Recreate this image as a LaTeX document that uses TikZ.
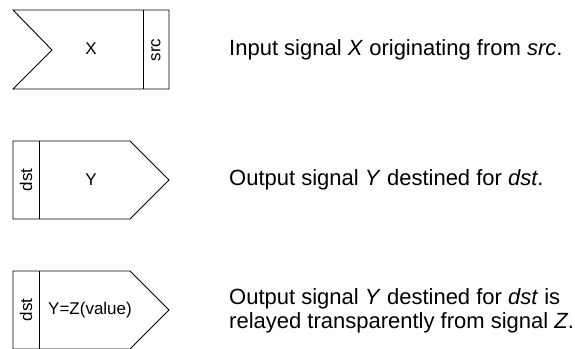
\documentclass[tikz,border=0pt]{standalone}
\usepackage{fontspec}
\setmainfont{Liberation Sans}
\begin{document}
\begin{tikzpicture}[x=1pt,y=-1pt,
  shapeline/.style={draw=black,line width=0.9pt,line join=miter},
  lbl/.style={inner sep=0pt,font=\fontsize{17}{20}\selectfont},
  vlbl/.style={inner sep=0pt,rotate=90,font=\fontsize{17}{20}\selectfont},
  desc/.style={inner sep=0pt,anchor=west,align=left,font=\fontsize{22}{24}\selectfont}]
\useasboundingbox (0,0) rectangle (575,348);
\begin{scope}
\clip (0,0) rectangle (575,348);
% shape 1: input signal
\coordinate (a1) at (13,10);
\coordinate (a2) at (169,10);
\coordinate (a3) at (169,89);
\coordinate (a4) at (13,89);
\coordinate (a5) at (52,50);
\coordinate (a6) at (143,10);
\coordinate (a7) at (143,89);
\draw[shapeline] (a1) -- (a2) -- (a3) -- (a4) -- (a5) -- cycle;
\draw[shapeline] (a6) -- (a7);
\node[lbl] (x) at (91,49) {X};
\node[vlbl] (src) at (156,50) {src};
% shape 2: output signal
\coordinate (b1) at (13,141);
\coordinate (b2) at (130,141);
\coordinate (b3) at (169,180);
\coordinate (b4) at (130,219);
\coordinate (b5) at (13,219);
\coordinate (b6) at (39,141);
\coordinate (b7) at (39,219);
\draw[shapeline] (b1) -- (b2) -- (b3) -- (b4) -- (b5) -- cycle;
\draw[shapeline] (b6) -- (b7);
\node[lbl] (y) at (91,180) {Y};
\node[vlbl] (dst1) at (26,180) {dst};
% shape 3: relayed output signal
\coordinate (c1) at (13,271);
\coordinate (c2) at (130,271);
\coordinate (c3) at (169,310);
\coordinate (c4) at (130,349);
\coordinate (c5) at (13,349);
\coordinate (c6) at (39,271);
\coordinate (c7) at (39,349);
\draw[shapeline] (c1) -- (c2) -- (c3) -- (c4) -- (c5) -- cycle;
\draw[shapeline] (c6) -- (c7);
\node[lbl] (yz) at (90,310) {Y=Z(value)};
\node[vlbl] (dst2) at (26,310) {dst};
\end{scope}
% descriptions
\node[desc] (d1) at (229,50) {Input signal \textit{X} originating from \textit{src}.};
\node[desc] (d2) at (229,180) {Output signal \textit{Y} destined for \textit{dst}.};
\node[desc] (d3) at (229,311) {Output signal \textit{Y} destined for \textit{dst} is\\relayed transparently from signal \textit{Z}.};
\end{tikzpicture}
\end{document}
